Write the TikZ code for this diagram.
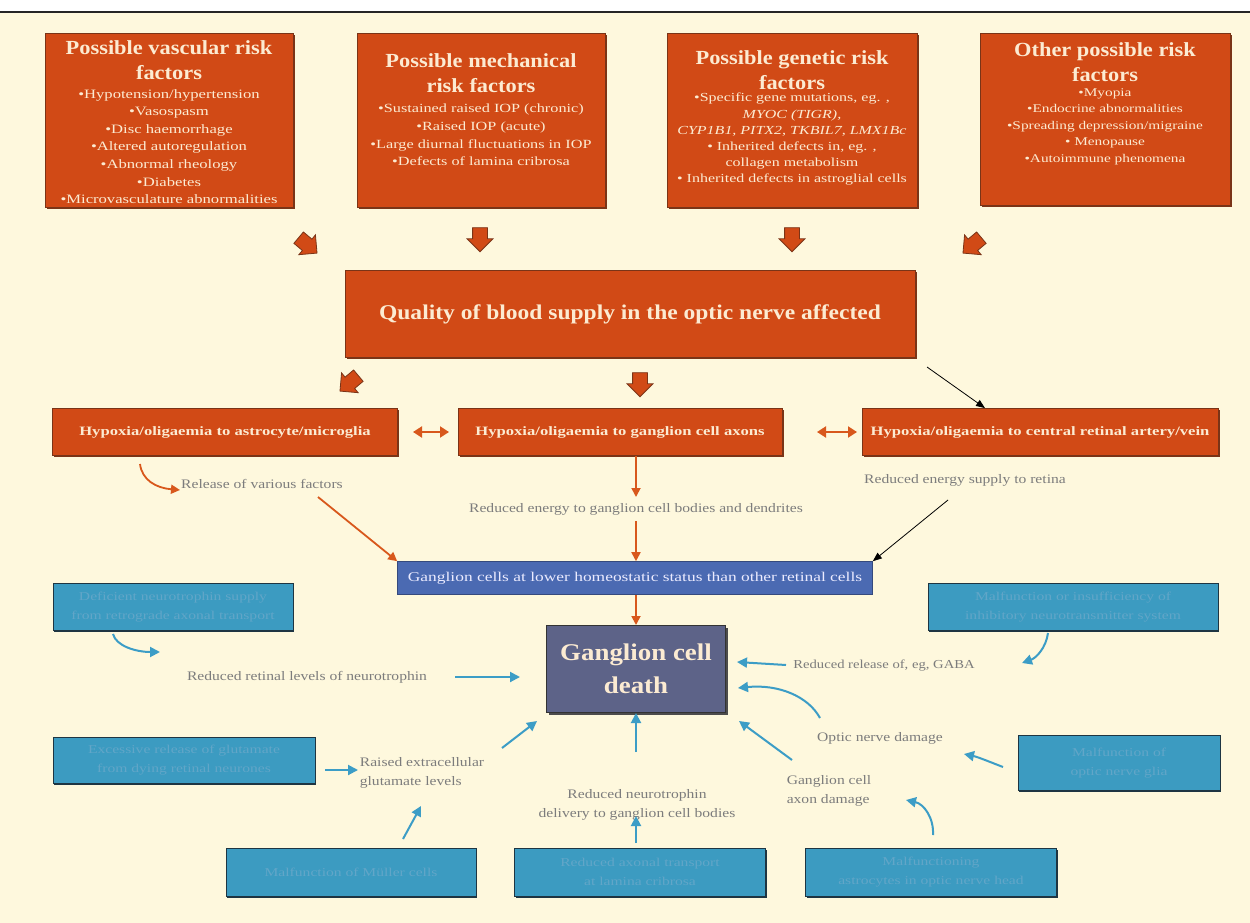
\documentclass[tikz,border=0pt]{standalone}
\usepackage{fontspec}
\setmainfont{Liberation Serif}
\newfontfamily\bodyf[FakeStretch=1.3]{Liberation Serif}
\newfontfamily\lblf[FakeStretch=1.2]{Liberation Serif}
\newfontfamily\titf[FakeStretch=1.12]{Liberation Serif}
\usetikzlibrary{shapes.arrows,arrows.meta,shadows}
\definecolor{bg}{HTML}{FEF8DD}
\definecolor{orng}{HTML}{D14A16}
\definecolor{obord}{HTML}{7A3417}
\definecolor{otext}{HTML}{FCEBD2}
\definecolor{oarrc}{HTML}{D8581C}
\definecolor{lab}{HTML}{7C7C7C}
\definecolor{bbox}{HTML}{3C9BC1}
\definecolor{bbord}{HTML}{1E3542}
\definecolor{btext}{HTML}{62A6C8}
\definecolor{barc}{HTML}{3C9DC6}
\definecolor{pbar}{HTML}{4B6AB2}
\definecolor{dbox}{HTML}{5D6388}
\begin{document}
\begin{tikzpicture}[x=1pt,y=-1pt,
  obox/.style={rectangle,inner sep=0pt,fill=orng,draw=obord,line width=0.8pt,
     drop shadow={shadow xshift=1.8pt,shadow yshift=-1.8pt,fill=obord,opacity=1}},
  bbx/.style={rectangle,inner sep=0pt,fill=bbox,draw=bbord,line width=1pt,align=center,
     text=btext,font=\bodyf\fontsize{12}{19}\selectfont,
     drop shadow={shadow xshift=1.2pt,shadow yshift=-1.5pt,fill=bbord,opacity=1}},
  ttl/.style={anchor=north,align=center,text=otext,inner sep=0pt,font=\titf\bfseries\fontsize{20}{25}\selectfont},
  bul/.style={anchor=north,align=center,text=otext,inner sep=0pt},
  rowt/.style={text=otext,font=\bodyf\bfseries\fontsize{12.8}{17}\selectfont},
  lbl/.style={text=lab,inner sep=0pt,font=\lblf\fontsize{13}{19}\selectfont,align=center},
  blk/.style={single arrow,fill=orng,draw=obord,line width=0.8pt,minimum height=24pt,
     inner xsep=0pt,inner ysep=7pt,single arrow head extend=5.5pt},
  oarr/.style={draw=oarrc,line width=1.8pt,-{Triangle[length=9pt,width=9pt]}},
  odarr/.style={draw=oarrc,line width=2pt,{Triangle[length=9pt,width=11pt]}-{Triangle[length=9pt,width=11pt]}},
  karr/.style={draw=black,line width=0.8pt,-{Triangle[length=9pt,width=7pt]}},
  barr/.style={draw=barc,line width=2pt,-{Triangle[length=10pt,width=10pt]}}]
\useasboundingbox (0,0) rectangle (1250,923);
\fill[white] (0,0) rectangle (1250,923);
\fill[bg] (0,12) rectangle (1250,923);
\draw[line width=2pt,black!85] (0,12) -- (1250,12);

% top risk factor boxes
\node[obox,minimum width=248pt,minimum height=174pt] (vasc) at (169,120) {};
\node[obox,minimum width=248pt,minimum height=174pt] (mech) at (481,120) {};
\node[obox,minimum width=250pt,minimum height=174pt] (gene) at (792,120) {};
\node[obox,minimum width=250pt,minimum height=172pt] (othr) at (1105,119) {};

\node[ttl] (vasct) at (169,40) {Possible vascular risk\\factors};
\node[bul,font=\bodyf\fontsize{12.8}{17.6}\selectfont] (vascb) at (169,89) {•Hypotension/hypertension\\•Vasospasm\\•Disc haemorrhage\\•Altered autoregulation\\•Abnormal rheology\\•Diabetes\\•Microvasculature abnormalities};

\node[ttl] (mecht) at (481,53) {Possible mechanical\\risk factors};
\node[bul,font=\bodyf\fontsize{12.5}{17.6}\selectfont] (mechb) at (481,104) {•Sustained raised IOP (chronic)\\•Raised IOP (acute)\\•Large diurnal fluctuations in IOP\\•Defects of lamina cribrosa};

\node[ttl] (genet) at (792,50) {Possible genetic risk\\factors};
\node[bul,font=\bodyf\fontsize{12.3}{16.2}\selectfont] (geneb) at (792,93) {•Specific gene mutations, eg. ,\\\textit{MYOC (TIGR),}\\\textit{CYP1B1, PITX2, TKBIL7, LMX1Bc}\\• Inherited defects in, eg. ,\\collagen metabolism\\• Inherited defects in astroglial cells};

\node[ttl] (othrt) at (1105,42) {Other possible risk\\factors};
\node[bul,font=\bodyf\fontsize{11.8}{16.5}\selectfont] (othrb) at (1105,88) {•Myopia\\•Endocrine abnormalities\\•Spreading depression/migraine\\• Menopause\\•Autoimmune phenomena};

% block arrows
\node[blk,rotate=-40] (ba1) at (305,243) {};
\node[blk,rotate=-90] (ba2) at (480,236) {};
\node[blk,rotate=-90] (ba3) at (792,236) {};
\node[blk,rotate=-140] (ba4) at (975,243) {};

% central box
\node[obox,minimum width=570pt,minimum height=87pt,text=otext,font=\titf\bfseries\fontsize{21}{24}\selectfont] (qual) at (630,314) {Quality of blood supply in the optic nerve affected};

\node[blk,rotate=-140] (ba5) at (352,381) {};
\node[blk,rotate=-90] (ba6) at (640,381) {};
\coordinate (k1s) at (927,367);

% hypoxia row
\node[obox,minimum width=345pt,minimum height=47pt,rowt] (ha) at (225,432) {Hypoxia/oligaemia to astrocyte/microglia};
\node[obox,minimum width=324pt,minimum height=47pt,rowt] (hb) at (620,432) {Hypoxia/oligaemia to ganglion cell axons};
\node[obox,minimum width=356pt,minimum height=47pt,rowt] (hc) at (1040,432) {Hypoxia/oligaemia to central retinal artery/vein};
\draw[karr] (k1s) -- (hc.north west -| 985,0);

\coordinate (da1) at (413,432); \coordinate (da2) at (449,432);
\coordinate (db1) at (817,432); \coordinate (db2) at (857,432);
\draw[odarr] (da1) -- (da2);
\draw[odarr] (db1) -- (db2);

% labels middle
\node[lbl] (rel) at (262,484) {Release of various factors};
\node[lbl] (ren) at (636,509) {Reduced energy to ganglion cell bodies and dendrites};
\node[lbl] (rsr) at (965,480) {Reduced energy supply to retina};

% bar
\node[rectangle,fill=pbar,draw=pbar!70!black,line width=0.6pt,minimum width=475pt,minimum height=33pt,inner sep=0pt,
  text=white!92!blue,font=\bodyf\fontsize{13.4}{15}\selectfont] (bar) at (635,578) {Ganglion cells at lower homeostatic status than other retinal cells};

\coordinate (c1a) at (140,464); \coordinate (c1b) at (180,490);
\draw[oarr] (c1a) .. controls (142,480) and (156,488) .. (c1b);
\coordinate (c2a) at (318,497);
\draw[oarr] (c2a) -- (bar.north west);
\draw[oarr] (hb.south -| 636,0) -- (636,497);
\coordinate (c3a) at (636,521);
\draw[oarr] (c3a) -- (bar.north -| 636,0);
\coordinate (k2s) at (948,500);
\draw[karr] (k2s) -- (bar.north east);

% death box
\node[rectangle,fill=dbox,draw=black!80,line width=1pt,minimum width=179pt,minimum height=87pt,inner sep=0pt,
  align=center,text=otext,font=\titf\bfseries\fontsize{24}{33}\selectfont,
  drop shadow={shadow xshift=2pt,shadow yshift=-2pt,fill=black!70,opacity=1}] (death) at (636,669) {Ganglion cell\\death};
\draw[oarr] (bar.south -| 636,0) -- (death.north -| 636,0);

% blue boxes
\node[bbx,minimum width=240pt,minimum height=47pt] (b1) at (173,607) {Deficient neurotrophin supply\\from retrograde axonal transport};
\node[bbx,minimum width=290pt,minimum height=47pt] (b2) at (1073,607) {Malfunction or insufficiency of\\inhibitory neurotransmitter system};
\node[bbx,minimum width=262pt,minimum height=46pt] (b3) at (184,760) {Excessive release of glutamate\\from dying retinal neurones};
\node[bbx,minimum width=202pt,minimum height=55pt] (b4) at (1119,763) {Malfunction of\\optic nerve glia};
\node[bbx,minimum width=250pt,minimum height=48pt] (b5) at (351,872) {Malfunction of Müller cells};
\node[bbx,minimum width=251pt,minimum height=48pt] (b6) at (640,872) {Reduced axonal transport\\at lamina cribrosa};
\node[bbx,minimum width=251pt,minimum height=48pt] (b7) at (931,872) {Malfunctioning\\astrocytes in optic nerve head};

% blue labels
\node[lbl] (rrl) at (307,677) {Reduced retinal levels of neurotrophin};
\node[lbl,font=\lblf\fontsize{12.2}{19}\selectfont] (rrg) at (884,666) {Reduced release of, eg, GABA};
\node[lbl] (ond) at (880,738) {Optic nerve damage};
\node[lbl,align=left] (rge) at (422,773) {Raised extracellular\\glutamate levels};
\node[lbl] (rnd) at (637,805) {Reduced neurotrophin\\delivery to ganglion cell bodies};
\node[lbl,align=left] (gca) at (829,791) {Ganglion cell\\axon damage};

% blue arrows
\coordinate (e1a) at (113,634); \coordinate (e1b) at (160,652);
\draw[barr] (e1a) .. controls (116,646) and (136,652) .. (e1b);
\coordinate (e2a) at (455,677);
\draw[barr] (e2a) -- (520,677);
\coordinate (e3a) at (786,665);
\draw[barr] (e3a) -- (737,662);
\coordinate (e4a) at (1048,633); \coordinate (e4b) at (1022,663);
\draw[barr] (e4a) .. controls (1046,648) and (1036,658) .. (e4b);
\coordinate (e5a) at (820,718); \coordinate (e5b) at (738,688);
\draw[barr] (e5a) .. controls (808,696) and (778,684) .. (e5b);
\coordinate (e6a) at (1003,767); \coordinate (e6b) at (964,754);
\draw[barr] (e6a) .. controls (990,762) and (978,757) .. (e6b);
\coordinate (e7a) at (325,770);
\draw[barr] (e7a) -- (358,770);
\coordinate (e8a) at (502,748);
\draw[barr] (e8a) -- (537,721);
\coordinate (e9a) at (636,752);
\draw[barr] (e9a) -- (death.south -| 636,0);
\coordinate (e10a) at (792,760);
\draw[barr] (e10a) -- (739,721);
\coordinate (e11a) at (933,835); \coordinate (e11b) at (906,800);
\draw[barr] (e11a) .. controls (934,818) and (924,804) .. (e11b);
\coordinate (e12a) at (403,839);
\draw[barr] (e12a) -- (421,806);
\coordinate (e13a) at (636,843);
\draw[barr] (e13a) -- (636,816);
\end{tikzpicture}
\end{document}
